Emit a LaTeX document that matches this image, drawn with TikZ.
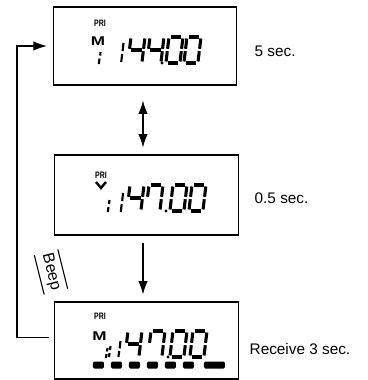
\documentclass[tikz,border=0pt]{standalone}
\usepackage{graphicx}
\usepackage{fontspec}
\setmainfont{Liberation Sans}
\usetikzlibrary{arrows.meta,positioning,calc}

% segments of one lcd digit, top left at (0,0), y downwards
\tikzset{
  seg a/.style={insert path={(1.8,0)--(12.2,0)}},
  seg b/.style={insert path={(14,1.5)--(14,11.8)}},
  seg c/.style={insert path={(14,14.2)--(14,24.5)}},
  seg d/.style={insert path={(1.8,26)--(12.2,26)}},
  seg e/.style={insert path={(0,14.2)--(0,24.5)}},
  seg f/.style={insert path={(0,1.5)--(0,11.8)}},
  seg g/.style={insert path={(1.8,13)--(12.2,13)}},
}
\newcommand{\lcddigit}[3]{%
  \begin{scope}[shift={(#1,#2)},xslant=0.12,line width=2.3pt]
    \foreach \s in {#3} {\draw[seg \s];}
  \end{scope}}

\begin{document}
\begin{tikzpicture}[x=0.75pt,y=-0.75pt,
    lcdbox/.style={draw, line width=0.8pt, minimum width=137.5pt, minimum height=58.5pt, inner sep=0pt},
    timing/.style={anchor=west, font=\fontsize{11.5}{13}\selectfont},
    flag/.style={inner sep=0pt, font=\bfseries\fontsize{7}{7}\selectfont},
    mode/.style={inner sep=0pt, font=\bfseries\fontsize{9.5}{9.5}\selectfont},
    link/.style={line width=0.8pt},
    tip/.style={-{Latex[length=10pt,width=7pt]}},
    bar/.style={line width=1.6pt}]
  \useasboundingbox (0,0) rectangle (368,380);

  % the three displays
  \node[lcdbox] (disp1) at (145,46) {};
  \node[lcdbox, minimum height=60pt] (disp2) at (146.5,195) {};
  \node[lcdbox, minimum height=57.75pt] (disp3) at (146.5,340.5) {};

  \node[timing] (t1) at (250,51) {5 sec.};
  \node[timing] (t2) at (250,198) {0.5 sec.};
  \node[timing] (t3) at (245,349) {Receive 3 sec.};

  % display 1
  \node[flag] (pri1) at (100,23.5) {\scalebox{0.75}[1]{PRI}};
  \node[mode] (m1) at (98,41.5) {\scalebox{1.35}[1]{M}};
  \draw[bar] (100.5,52)--(100.2,55.5) (99.5,58.5)--(98.8,64);
  \draw[bar] (123.5,43)--(122.6,51) (122.2,54)--(121.2,62);
  \lcddigit{131}{37}{b,c,f,g}
  \lcddigit{150}{37}{b,c,f,g}
  \fill (162,63) circle[radius=1.3pt];
  \lcddigit{169}{37}{a,b,c,d,e,f}
  \lcddigit{187}{37}{a,b,c,d,e,f}

  % display 2
  \node[flag] (pri2) at (101,175) {\scalebox{0.75}[1]{PRI}};
  \draw[line width=1.8pt] (96,182)--(101,188)--(106,182);
  \draw[bar] (109.5,200)--(109,204) (108.5,207)--(107.8,212);
  \draw[bar] (123,193)--(122.2,201) (121.7,204)--(120.8,212);
  \lcddigit{130}{185}{b,c,f,g}
  \lcddigit{149}{185}{a,b,c,f}
  \fill (166,211) circle[radius=1.3pt];
  \lcddigit{173}{185}{a,b,c,d,e,f}
  \lcddigit{192}{185}{a,b,c,d,e,f}

  % display 3
  \node[flag] (pri3) at (100,316.5) {\scalebox{0.75}[1]{PRI}};
  \node[mode] (m3) at (99.5,336.5) {\scalebox{1.35}[1]{M}};
  \draw[bar] (110.5,346)--(110,350) (109.5,353)--(109,357);
  \draw[bar] (107.5,348)--(107,351.5) (106.5,354)--(106,358);
  \draw[bar] (120.5,341)--(119.6,348.5) (119.2,351)--(118.4,357);
  \lcddigit{128}{331}{b,c,f,g}
  \lcddigit{151}{331}{a,b,c,f}
  \fill (168,357) circle[radius=1.3pt];
  \lcddigit{173}{331}{a,b,c,d,e,f}
  \lcddigit{193}{331}{a,b,c,d,e,f}
  \foreach \bx in {93,111,129,147,165,183}
    \fill[rounded corners=1pt] (\bx,361.5) rectangle ++(11,7);
  \fill[rounded corners=1pt] (204,361.5) rectangle (225,368.5);

  % arrows
  \coordinate (axis) at (143,0);
  \coordinate (turn) at (17,46);
  \draw[link, {Latex[length=10pt,width=7pt]}-{Latex[length=10pt,width=7pt]},
        shorten <=11.25pt, shorten >=5.25pt]
    (disp1.south -| axis) -- (disp2.north -| axis);
  \draw[link, tip, shorten <=5.25pt, shorten >=5.25pt]
    (disp2.south -| axis) -- (disp3.north -| axis);
  \draw[link, tip, shorten <=4pt, shorten >=4.5pt]
    ([yshift=2pt]disp3.west) -| (turn) |- (disp1.west);

  \node[rotate=-76, inner xsep=1pt, inner ysep=3.5pt, font=\fontsize{12}{14}\selectfont]
    (beep) at (51,272) {Beep};
  \draw[link] (beep.north west) -- (beep.north east);
  \draw[link] (beep.south west) -- (beep.south east);
\end{tikzpicture}
\end{document}
